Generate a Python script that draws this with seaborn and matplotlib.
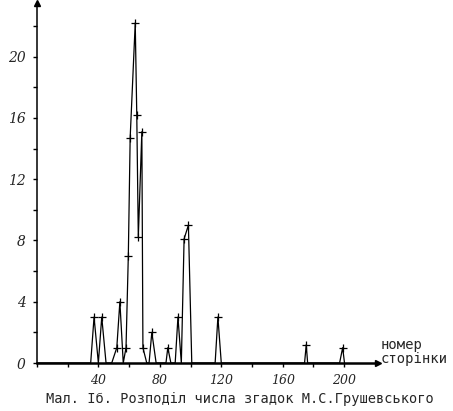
import matplotlib
matplotlib.use("Agg")
import matplotlib.pyplot as plt
import seaborn as sns
import pandas as pd

# page number (x) and number of mentions (y), vertices of the hand-drawn polyline
pages = [0, 35, 37.2, 40, 42.2, 45, 48.7, 52, 54, 56.2, 58, 59.5, 60.7, 64, 65, 66,
         68.3, 69, 71.5, 73, 74.8, 77.6, 84, 85.2, 87.2, 90, 91.8, 94, 95.8, 98.6,
         100.8, 116, 117.8, 120, 174.2, 175.3, 176.2, 197, 199, 200.2]
mentions = [0, 0, 3, 0, 3, 0, 0, 1, 4, 0, 1, 7, 14.7, 22.2, 16.2, 8.2,
            15.1, 1, 0, 0, 2, 0, 0, 1, 0, 0, 3, 0, 8.1, 9,
            0, 0, 3, 0, 0, 1.2, 0, 0, 1, 0]

x_ticks = [0, 20, 40, 60, 80, 100, 120, 140, 160, 180, 200]
x_labels = ["", "", "40", "", "80", "", "120", "", "160", "", "200"]
y_ticks = [0, 2, 4, 6, 8, 10, 12, 14, 16, 18, 20, 22]
y_labels = ["0", "", "4", "", "8", "", "12", "", "16", "", "20", ""]

x_axis_label = "номер\nсторінки"
caption = "Мал. Іб. Розподіл числа згадок М.С.Грушевського"

df = pd.DataFrame({"page": pages, "count": mentions})
marked = df[df["count"] > 0]

sns.set_style("white")
fig = plt.figure(figsize=(4.53, 4.11), dpi=100)
ax = fig.add_axes([36.9 / 453, 48 / 411, (378 - 36.9) / 453, (363 - 3) / 411])

sns.lineplot(data=df, x="page", y="count", sort=False, color="black",
             linewidth=0.9, ax=ax, estimator=None)
sns.scatterplot(data=marked, x="page", y="count", marker="+", s=30,
                color="black", linewidth=0.9, ax=ax, zorder=3)

ax.set_xlim(0, 222)
ax.set_ylim(0, 23.5)
for side in ["top", "right"]:
    ax.spines[side].set_visible(False)
ax.spines["bottom"].set_linewidth(1.8)
ax.spines["left"].set_linewidth(1.1)
ax.spines["bottom"].set_color("black")
ax.spines["left"].set_color("black")

# arrow heads
ax.plot(1, 0, ">", color="black", markersize=5, transform=ax.get_yaxis_transform(), clip_on=False)
ax.plot(0, 1, "^", color="black", markersize=4, transform=ax.get_xaxis_transform(), clip_on=False)

ax.set_xticks(x_ticks)
ax.set_xticklabels(x_labels, fontsize=9, family="DejaVu Serif", style="italic")
ax.set_yticks(y_ticks)
ax.set_yticklabels(y_labels, fontsize=10, family="DejaVu Serif", style="italic")
ax.tick_params(axis="both", direction="out", length=3, width=1, color="black",
               bottom=True, left=True, pad=5)
ax.set_xlabel("")
ax.set_ylabel("")

fig.text(381 / 453, 1 - 352 / 411, x_axis_label, fontsize=10, family="DejaVu Sans Mono",
         ha="left", va="center", linespacing=1.0)
fig.text(240 / 453, 1 - 399 / 411, caption, fontsize=9.8, family="DejaVu Sans Mono",
         ha="center", va="center")

fig.savefig("out.png", dpi=100, facecolor="white")
